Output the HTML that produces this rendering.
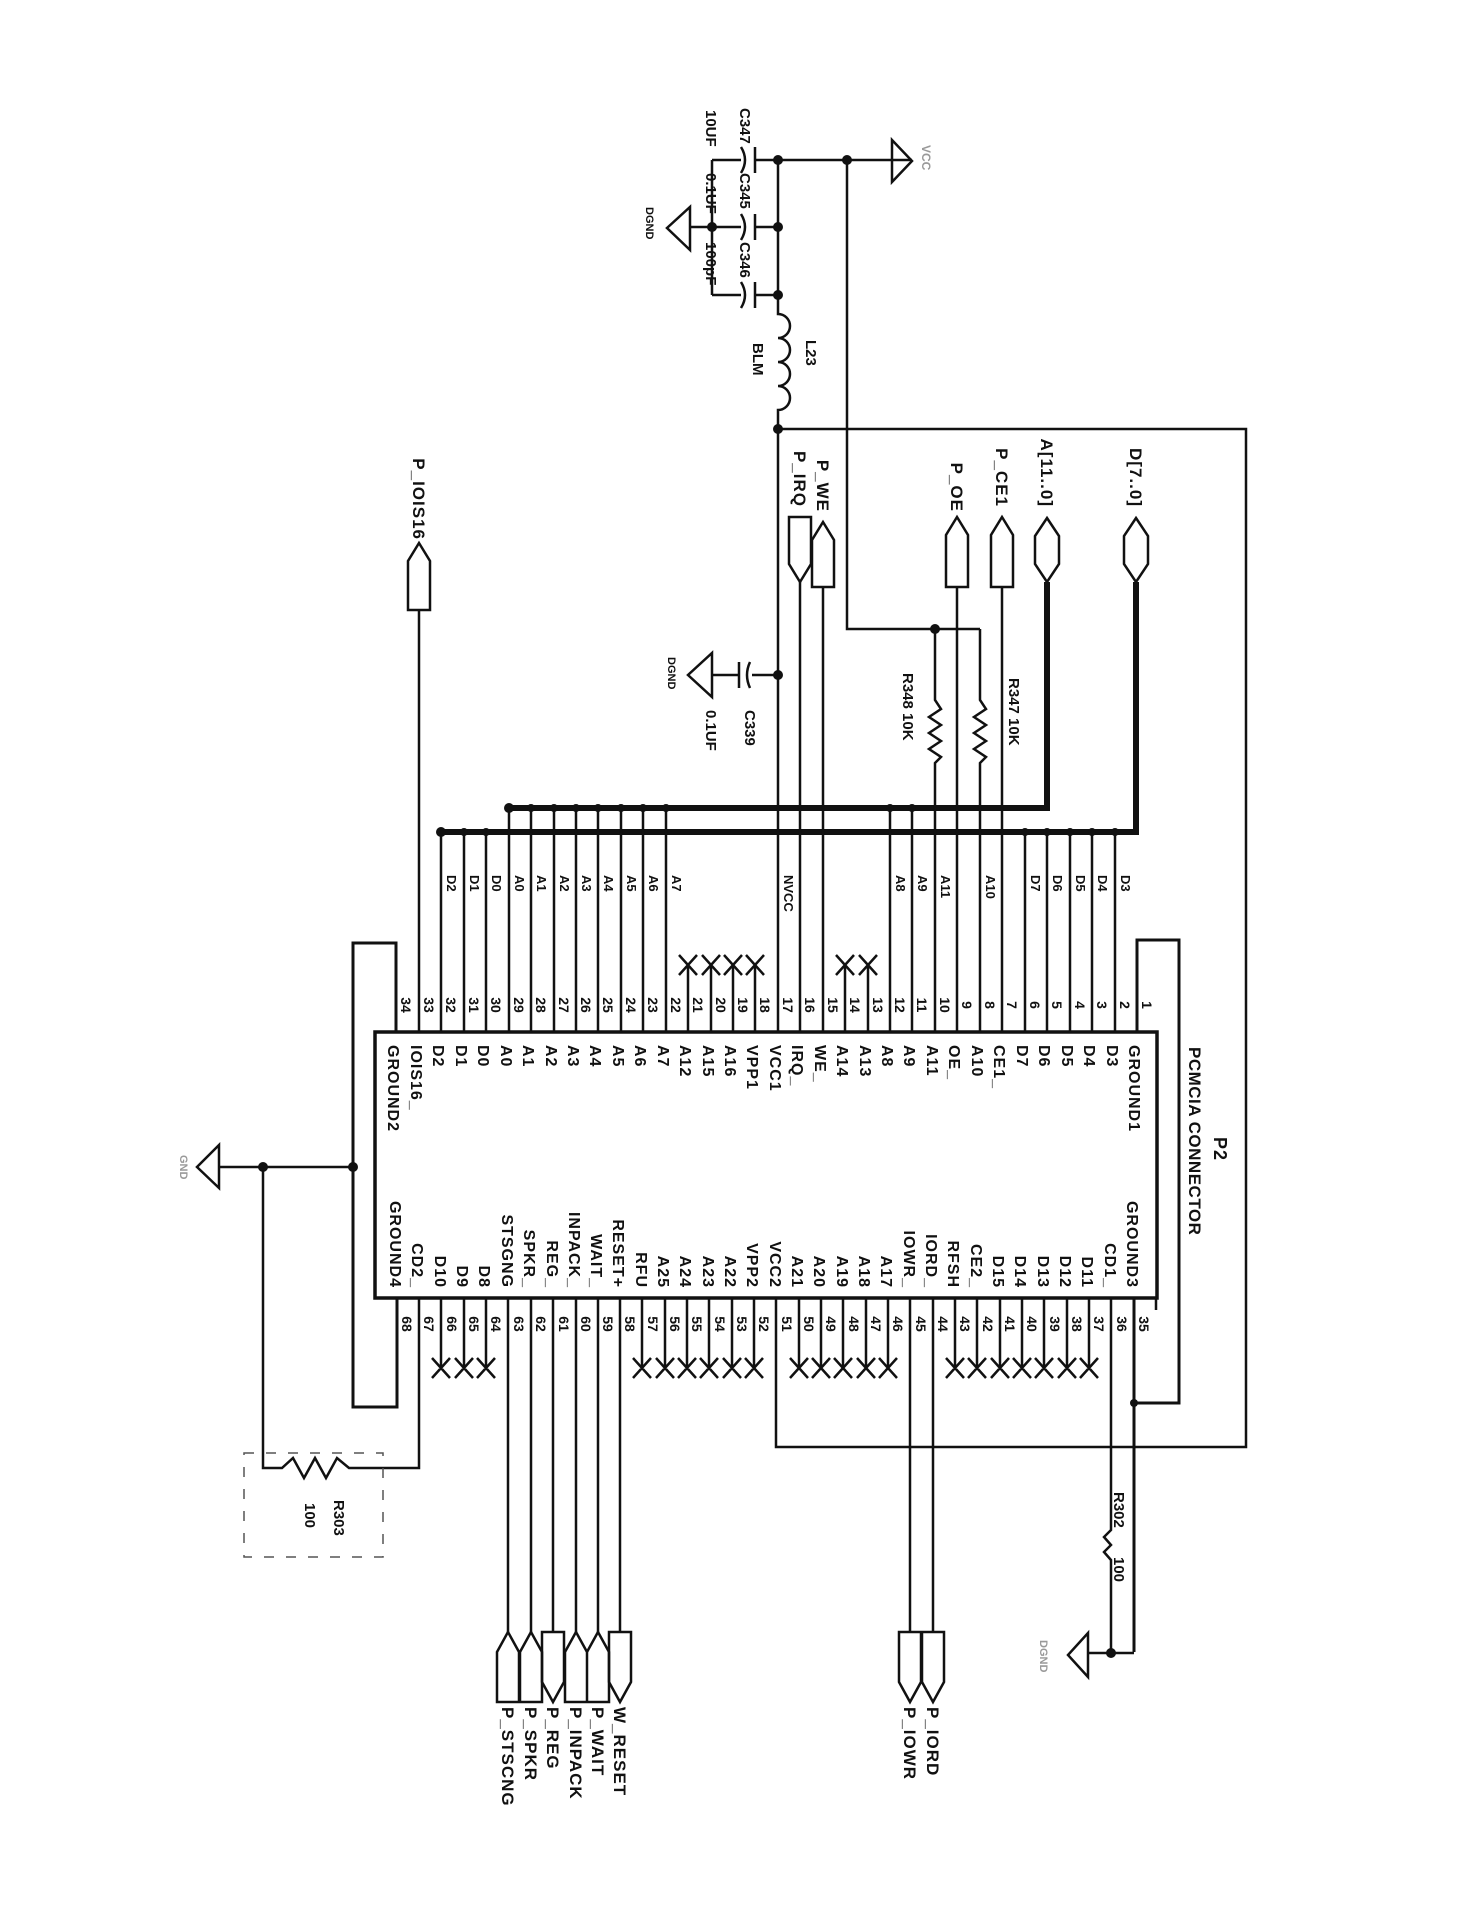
<!DOCTYPE html>
<html><head><meta charset="utf-8"><style>
html,body{margin:0;padding:0;background:#fff}
svg{display:block}
text{font-family:"Liberation Sans",sans-serif;font-weight:bold;fill:#111}
.p{font-size:16px;letter-spacing:1px}
.n{font-size:14px}
.w{font-size:13px}
.c{font-size:17px;letter-spacing:1px}
.s{font-size:15px}
</style></head><body>
<svg width="1482" height="1932" viewBox="0 0 1482 1932" xmlns="http://www.w3.org/2000/svg">
<g fill="none" stroke="#111" stroke-width="2.5">
<!-- box -->
<rect x="375" y="1032" width="782" height="266" stroke-width="3.5"/>
<!-- brackets -->
<path d="M396 1032 V943 H353 V1407 H397 V1298" stroke-width="3"/>
<path d="M1134 1652 V1298 M1134 1403 H1179 V940 H1137 V1032" stroke-width="3"/>
<!-- buses -->
<path d="M441 832 H1136 V582" stroke-width="6"/>
<path d="M509 808 H1047 V582" stroke-width="6"/>
<!-- top pin wires to D bus -->
<path d="M1115 1032V832 M1092 1032V832 M1070 1032V832 M1047 1032V832 M1025 1032V832 M486 1032V832 M464 1032V832 M441 1032V832"/>
<!-- to A bus -->
<path d="M912 1032V808 M890 1032V808 M666 1032V808 M643 1032V808 M621 1032V808 M598 1032V808 M576 1032V808 M554 1032V808 M531 1032V808 M509 1032V808"/>
<!-- signals -->
<path d="M1002 1032V587 M957 1032V587 M823 1032V587 M800 1032V582 M419 1032V610"/>
<!-- R347/R348 -->
<path d="M980 1032V763 L986 757 L974 749 L986 741 L974 733 L986 725 L974 717 L986 709 L980 700 V629"/>
<path d="M935 1032V763 L941 757 L929 749 L941 741 L929 733 L941 725 L929 717 L941 709 L935 700 V629"/>
<path d="M847 160 V629 H980"/>
<!-- VCC chain -->
<path d="M778 1032 V410 a12 12 0 0 0 0 -24 a12 12 0 0 0 0 -24 a12 12 0 0 0 0 -24 a12 12 0 0 0 0 -24 V160"/>
<path d="M778 429 H1246 V1447 H776 V1298"/>
<!-- caps top -->
<path d="M712 160 V295 M712 160 H741 M755 160 H912 M712 227 H741 M755 227 H778 M712 295 H741 M755 295 H778"/>
<path d="M755 147 V173 M755 214 V240 M755 282 V308"/>
<path d="M741 147 Q749 160 741 173 M741 214 Q749 227 741 240 M741 282 Q749 295 741 308"/>
<path d="M712 227 H690"/>
<polygon points="690,207 690,250 667,228"/>
<polygon points="892,140 892,182 912,161"/>
<!-- C339 -->
<path d="M778 675 H752 M739 675 H712 M739 662 V688 M750 662 Q744 675 750 688"/>
<polygon points="712,653 712,697 688,675"/>
<!-- top connectors -->
<polygon points="1136,518 1148,536 1148,564 1136,582 1124,564 1124,536"/>
<polygon points="1047,518 1059,536 1059,564 1047,582 1035,564 1035,536"/>
<path d="M1002 517 L1013 535 V587 H991 V535 Z M957 517 L968 535 V587 H946 V535 Z M823 522 L834 540 V587 H812 V540 Z M419 543 L430 561 V610 H408 V561 Z"/>
<path d="M789 517 H811 V564 L800 582 L789 564 Z"/>
<!-- top X stubs -->
<path d="M868 1032V965 M845 1032V965 M755 1032V965 M733 1032V965 M711 1032V965 M688 1032V965"/>
<path d="M859 955L877 975M877 955L859 975 M836 955L854 975M854 955L836 975 M746 955L764 975M764 955L746 975 M724 955L742 975M742 955L724 975 M702 955L720 975M720 955L702 975 M679 955L697 975M697 955L679 975"/>
<!-- bottom stubs X -->
<path d="M1156 1298V1310 M1089 1298V1368 M1067 1298V1368 M1044 1298V1368 M1022 1298V1368 M1000 1298V1368 M977 1298V1368 M955 1298V1368 M888 1298V1368 M866 1298V1368 M843 1298V1368 M821 1298V1368 M799 1298V1368 M754 1298V1368 M732 1298V1368 M709 1298V1368 M687 1298V1368 M665 1298V1368 M642 1298V1368 M486 1298V1368 M464 1298V1368 M441 1298V1368"/>
<path d="M1080 1358l18 20m0-20l-18 20 M1058 1358l18 20m0-20l-18 20 M1035 1358l18 20m0-20l-18 20 M1013 1358l18 20m0-20l-18 20 M991 1358l18 20m0-20l-18 20 M968 1358l18 20m0-20l-18 20 M946 1358l18 20m0-20l-18 20 M879 1358l18 20m0-20l-18 20 M857 1358l18 20m0-20l-18 20 M834 1358l18 20m0-20l-18 20 M812 1358l18 20m0-20l-18 20 M790 1358l18 20m0-20l-18 20 M745 1358l18 20m0-20l-18 20 M723 1358l18 20m0-20l-18 20 M700 1358l18 20m0-20l-18 20 M678 1358l18 20m0-20l-18 20 M656 1358l18 20m0-20l-18 20 M633 1358l18 20m0-20l-18 20 M477 1358l18 20m0-20l-18 20 M455 1358l18 20m0-20l-18 20 M432 1358l18 20m0-20l-18 20"/>
<!-- bottom signals -->
<path d="M933 1298V1632 M910 1298V1632 M620 1298V1632 M598 1298V1632 M576 1298V1632 M553 1298V1632 M531 1298V1632 M508 1298V1632"/>
<path d="M922 1632 H944 V1682 L933 1702 L922 1682 Z M899 1632 H921 V1682 L910 1702 L899 1682 Z M609 1632 H631 V1682 L620 1702 L609 1682 Z M542 1632 H564 V1682 L553 1702 L542 1682 Z"/>
<path d="M598 1632 L609 1652 V1702 H587 V1652 Z M576 1632 L587 1652 V1702 H565 V1652 Z M531 1632 L542 1652 V1702 H520 V1652 Z M508 1632 L519 1652 V1702 H497 V1652 Z"/>
<!-- R302 + GND right -->
<path d="M1111 1298 V1530 L1104 1537 L1111 1545 L1104 1552 L1111 1560 V1653 M1088 1653 H1134"/>
<polygon points="1088,1633 1088,1677 1068,1655"/>
<!-- left GND + R303 -->
<path d="M353 1167 H219 M263 1167 V1468 H282 L293 1458 L304 1478 L315 1458 L326 1478 L337 1458 L349 1468 H419 V1298"/>
<polygon points="219,1145 219,1188 197,1167"/>
<rect x="244" y="1453" width="139" height="104" stroke="#555" stroke-width="1.5" stroke-dasharray="10 12"/>
</g>
<g fill="#111">
<circle cx="778" cy="160" r="5"/><circle cx="847" cy="160" r="5"/><circle cx="778" cy="227" r="5"/><circle cx="712" cy="227" r="5"/><circle cx="778" cy="295" r="5"/>
<circle cx="778" cy="429" r="5"/><circle cx="778" cy="675" r="5"/><circle cx="935" cy="629" r="5"/>
<circle cx="441" cy="832" r="5"/><circle cx="509" cy="808" r="5"/>
<circle cx="1115" cy="832" r="4"/><circle cx="1092" cy="832" r="4"/><circle cx="1070" cy="832" r="4"/><circle cx="1047" cy="832" r="4"/><circle cx="1025" cy="832" r="4"/><circle cx="486" cy="832" r="4"/><circle cx="464" cy="832" r="4"/>
<circle cx="912" cy="808" r="4"/><circle cx="890" cy="808" r="4"/><circle cx="666" cy="808" r="4"/><circle cx="643" cy="808" r="4"/><circle cx="621" cy="808" r="4"/><circle cx="598" cy="808" r="4"/><circle cx="576" cy="808" r="4"/><circle cx="554" cy="808" r="4"/><circle cx="531" cy="808" r="4"/>
<circle cx="353" cy="1167" r="5"/><circle cx="263" cy="1167" r="5"/><circle cx="1111" cy="1653" r="5"/><circle cx="1134" cy="1403" r="4"/>
</g>

<!-- top-area labels -->
<text class="s" transform="translate(740 108) rotate(90)">C347</text>
<text class="s" transform="translate(706 110) rotate(90)">10UF</text>
<text class="s" transform="translate(740 173) rotate(90)">C345</text>
<text class="s" transform="translate(706 173) rotate(90)">0.1UF</text>
<text class="s" transform="translate(740 242) rotate(90)">C346</text>
<text class="s" transform="translate(706 242) rotate(90)">100pF</text>
<text class="s" transform="translate(646 207) rotate(90)" style="font-size:11px">DGND</text>
<text class="s" transform="translate(922 145) rotate(90)" style="fill:#999;font-size:12px">VCC</text>
<text class="s" transform="translate(806 340) rotate(90)">L23</text>
<text class="s" transform="translate(753 343) rotate(90)">BLM</text>
<text class="c" text-anchor="end" transform="translate(1130 507) rotate(90)">D[7..0]</text>
<text class="c" text-anchor="end" transform="translate(1041 507) rotate(90)">A[11..0]</text>
<text class="c" text-anchor="end" transform="translate(996 507) rotate(90)">P_CE1</text>
<text class="c" text-anchor="end" transform="translate(951 512) rotate(90)">P_OE</text>
<text class="c" text-anchor="end" transform="translate(817 512) rotate(90)">P_WE</text>
<text class="c" text-anchor="end" transform="translate(794 507) rotate(90)">P_IRQ</text>
<text class="c" text-anchor="end" transform="translate(413 540) rotate(90)">P_IOIS16</text>
<text class="s" transform="translate(1009 678) rotate(90)">R347 10K</text>
<text class="s" transform="translate(903 673) rotate(90)">R348  10K</text>
<text class="s" transform="translate(745 710) rotate(90)">C339</text>
<text class="s" transform="translate(706 710) rotate(90)">0.1UF</text>
<text class="s" transform="translate(668 657) rotate(90)" style="font-size:11px">DGND</text>

<!-- wire labels -->
<text class="w" transform="translate(1121 875) rotate(90)">D3</text>
<text class="w" transform="translate(1098 875) rotate(90)">D4</text>
<text class="w" transform="translate(1076 875) rotate(90)">D5</text>
<text class="w" transform="translate(1053 875) rotate(90)">D6</text>
<text class="w" transform="translate(1031 875) rotate(90)">D7</text>
<text class="w" transform="translate(986 875) rotate(90)">A10</text>
<text class="w" transform="translate(941 875) rotate(90)">A11</text>
<text class="w" transform="translate(918 875) rotate(90)">A9</text>
<text class="w" transform="translate(896 875) rotate(90)">A8</text>
<text class="w" transform="translate(784 875) rotate(90)">NVCC</text>
<text class="w" transform="translate(672 875) rotate(90)">A7</text>
<text class="w" transform="translate(649 875) rotate(90)">A6</text>
<text class="w" transform="translate(627 875) rotate(90)">A5</text>
<text class="w" transform="translate(604 875) rotate(90)">A4</text>
<text class="w" transform="translate(582 875) rotate(90)">A3</text>
<text class="w" transform="translate(560 875) rotate(90)">A2</text>
<text class="w" transform="translate(537 875) rotate(90)">A1</text>
<text class="w" transform="translate(515 875) rotate(90)">A0</text>
<text class="w" transform="translate(492 875) rotate(90)">D0</text>
<text class="w" transform="translate(470 875) rotate(90)">D1</text>
<text class="w" transform="translate(447 875) rotate(90)">D2</text>

<!-- title -->
<text class="c" transform="translate(1214 1137) rotate(90)" style="font-size:18px">P2</text>
<text class="c" transform="translate(1189 1047) rotate(90)" style="font-size:17px;letter-spacing:0.5px">PCMCIA CONNECTOR</text>

<!-- top pin numbers -->
<g class="n" text-anchor="middle">
<text transform="translate(1142 1005) rotate(90)">1</text><text transform="translate(1120 1005) rotate(90)">2</text><text transform="translate(1097 1005) rotate(90)">3</text><text transform="translate(1075 1005) rotate(90)">4</text><text transform="translate(1052 1005) rotate(90)">5</text><text transform="translate(1030 1005) rotate(90)">6</text><text transform="translate(1007 1005) rotate(90)">7</text><text transform="translate(985 1005) rotate(90)">8</text><text transform="translate(962 1005) rotate(90)">9</text><text transform="translate(940 1005) rotate(90)">10</text><text transform="translate(917 1005) rotate(90)">11</text><text transform="translate(895 1005) rotate(90)">12</text><text transform="translate(873 1005) rotate(90)">13</text><text transform="translate(850 1005) rotate(90)">14</text><text transform="translate(828 1005) rotate(90)">15</text><text transform="translate(805 1005) rotate(90)">16</text><text transform="translate(783 1005) rotate(90)">17</text><text transform="translate(760 1005) rotate(90)">18</text><text transform="translate(738 1005) rotate(90)">19</text><text transform="translate(716 1005) rotate(90)">20</text><text transform="translate(693 1005) rotate(90)">21</text><text transform="translate(671 1005) rotate(90)">22</text><text transform="translate(648 1005) rotate(90)">23</text><text transform="translate(626 1005) rotate(90)">24</text><text transform="translate(603 1005) rotate(90)">25</text><text transform="translate(581 1005) rotate(90)">26</text><text transform="translate(559 1005) rotate(90)">27</text><text transform="translate(536 1005) rotate(90)">28</text><text transform="translate(514 1005) rotate(90)">29</text><text transform="translate(491 1005) rotate(90)">30</text><text transform="translate(469 1005) rotate(90)">31</text><text transform="translate(446 1005) rotate(90)">32</text><text transform="translate(424 1005) rotate(90)">33</text><text transform="translate(401 1005) rotate(90)">34</text>
</g>
<!-- bottom pin numbers -->
<g class="n" text-anchor="middle">
<text transform="translate(1139 1324) rotate(90)">35</text><text transform="translate(1117 1324) rotate(90)">36</text><text transform="translate(1094 1324) rotate(90)">37</text><text transform="translate(1072 1324) rotate(90)">38</text><text transform="translate(1050 1324) rotate(90)">39</text><text transform="translate(1027 1324) rotate(90)">40</text><text transform="translate(1005 1324) rotate(90)">41</text><text transform="translate(983 1324) rotate(90)">42</text><text transform="translate(960 1324) rotate(90)">43</text><text transform="translate(938 1324) rotate(90)">44</text><text transform="translate(916 1324) rotate(90)">45</text><text transform="translate(893 1324) rotate(90)">46</text><text transform="translate(871 1324) rotate(90)">47</text><text transform="translate(849 1324) rotate(90)">48</text><text transform="translate(826 1324) rotate(90)">49</text><text transform="translate(804 1324) rotate(90)">50</text><text transform="translate(782 1324) rotate(90)">51</text><text transform="translate(759 1324) rotate(90)">52</text><text transform="translate(737 1324) rotate(90)">53</text><text transform="translate(715 1324) rotate(90)">54</text><text transform="translate(692 1324) rotate(90)">55</text><text transform="translate(670 1324) rotate(90)">56</text><text transform="translate(648 1324) rotate(90)">57</text><text transform="translate(625 1324) rotate(90)">58</text><text transform="translate(603 1324) rotate(90)">59</text><text transform="translate(581 1324) rotate(90)">60</text><text transform="translate(559 1324) rotate(90)">61</text><text transform="translate(536 1324) rotate(90)">62</text><text transform="translate(514 1324) rotate(90)">63</text><text transform="translate(491 1324) rotate(90)">64</text><text transform="translate(469 1324) rotate(90)">65</text><text transform="translate(447 1324) rotate(90)">66</text><text transform="translate(424 1324) rotate(90)">67</text><text transform="translate(402 1324) rotate(90)">68</text>
</g>
<!-- top pin labels inside box -->
<g class="p">
<text transform="translate(1129 1045) rotate(90)">GROUND1</text><text transform="translate(1107 1045) rotate(90)">D3</text><text transform="translate(1084 1045) rotate(90)">D4</text><text transform="translate(1062 1045) rotate(90)">D5</text><text transform="translate(1039 1045) rotate(90)">D6</text><text transform="translate(1017 1045) rotate(90)">D7</text><text transform="translate(994 1045) rotate(90)">CE1_</text><text transform="translate(972 1045) rotate(90)">A10</text><text transform="translate(949 1045) rotate(90)">OE_</text><text transform="translate(927 1045) rotate(90)">A11</text><text transform="translate(904 1045) rotate(90)">A9</text><text transform="translate(882 1045) rotate(90)">A8</text><text transform="translate(860 1045) rotate(90)">A13</text><text transform="translate(837 1045) rotate(90)">A14</text><text transform="translate(815 1045) rotate(90)">WE_</text><text transform="translate(792 1045) rotate(90)">IRQ_</text><text transform="translate(770 1045) rotate(90)">VCC1</text><text transform="translate(747 1045) rotate(90)">VPP1</text><text transform="translate(725 1045) rotate(90)">A16</text><text transform="translate(703 1045) rotate(90)">A15</text><text transform="translate(680 1045) rotate(90)">A12</text><text transform="translate(658 1045) rotate(90)">A7</text><text transform="translate(635 1045) rotate(90)">A6</text><text transform="translate(613 1045) rotate(90)">A5</text><text transform="translate(590 1045) rotate(90)">A4</text><text transform="translate(568 1045) rotate(90)">A3</text><text transform="translate(546 1045) rotate(90)">A2</text><text transform="translate(523 1045) rotate(90)">A1</text><text transform="translate(501 1045) rotate(90)">A0</text><text transform="translate(478 1045) rotate(90)">D0</text><text transform="translate(456 1045) rotate(90)">D1</text><text transform="translate(433 1045) rotate(90)">D2</text><text transform="translate(411 1045) rotate(90)">IOIS16_</text><text transform="translate(388 1045) rotate(90)">GROUND2</text>
</g>
<!-- bottom pin labels inside box -->
<g class="p" text-anchor="end">
<text transform="translate(1127 1288) rotate(90)">GROUND3</text><text transform="translate(1105 1288) rotate(90)">CD1_</text><text transform="translate(1082 1288) rotate(90)">D11</text><text transform="translate(1060 1288) rotate(90)">D12</text><text transform="translate(1038 1288) rotate(90)">D13</text><text transform="translate(1015 1288) rotate(90)">D14</text><text transform="translate(993 1288) rotate(90)">D15</text><text transform="translate(971 1288) rotate(90)">CE2_</text><text transform="translate(948 1288) rotate(90)">RFSH</text><text transform="translate(926 1288) rotate(90)">IORD_</text><text transform="translate(904 1288) rotate(90)">IOWR_</text><text transform="translate(881 1288) rotate(90)">A17</text><text transform="translate(859 1288) rotate(90)">A18</text><text transform="translate(837 1288) rotate(90)">A19</text><text transform="translate(814 1288) rotate(90)">A20</text><text transform="translate(792 1288) rotate(90)">A21</text><text transform="translate(770 1288) rotate(90)">VCC2</text><text transform="translate(747 1288) rotate(90)">VPP2</text><text transform="translate(725 1288) rotate(90)">A22</text><text transform="translate(703 1288) rotate(90)">A23</text><text transform="translate(680 1288) rotate(90)">A24</text><text transform="translate(658 1288) rotate(90)">A25</text><text transform="translate(636 1288) rotate(90)">RFU</text><text transform="translate(613 1288) rotate(90)">RESET+</text><text transform="translate(591 1288) rotate(90)">WAIT_</text><text transform="translate(569 1288) rotate(90)">INPACK_</text><text transform="translate(547 1288) rotate(90)">REG_</text><text transform="translate(524 1288) rotate(90)">SPKR_</text><text transform="translate(502 1288) rotate(90)">STSGNG</text><text transform="translate(479 1288) rotate(90)">D8</text><text transform="translate(457 1288) rotate(90)">D9</text><text transform="translate(435 1288) rotate(90)">D10</text><text transform="translate(412 1288) rotate(90)">CD2_</text><text transform="translate(390 1288) rotate(90)">GROUND4</text>
</g>
<!-- bottom connector labels -->
<g class="c">
<text transform="translate(614 1707) rotate(90)">W_RESET</text>
<text transform="translate(592 1707) rotate(90)">P_WAIT</text>
<text transform="translate(570 1707) rotate(90)">P_INPACK</text>
<text transform="translate(547 1707) rotate(90)">P_REG</text>
<text transform="translate(525 1707) rotate(90)">P_SPKR</text>
<text transform="translate(502 1707) rotate(90)">P_STSCNG</text>
<text transform="translate(927 1707) rotate(90)">P_IORD</text>
<text transform="translate(904 1707) rotate(90)">P_IOWR</text>
</g>
<text class="s" transform="translate(1114 1492) rotate(90)">R302</text>
<text class="s" transform="translate(1114 1557) rotate(90)">100</text>
<text class="s" transform="translate(1040 1640) rotate(90)" style="fill:#999;font-size:11px">DGND</text>
<text class="s" transform="translate(334 1500) rotate(90)">R303</text>
<text class="s" transform="translate(305 1503) rotate(90)">100</text>
<text class="s" transform="translate(180 1155) rotate(90)" style="fill:#999;font-size:11px">GND</text>
</svg>
</body></html>
